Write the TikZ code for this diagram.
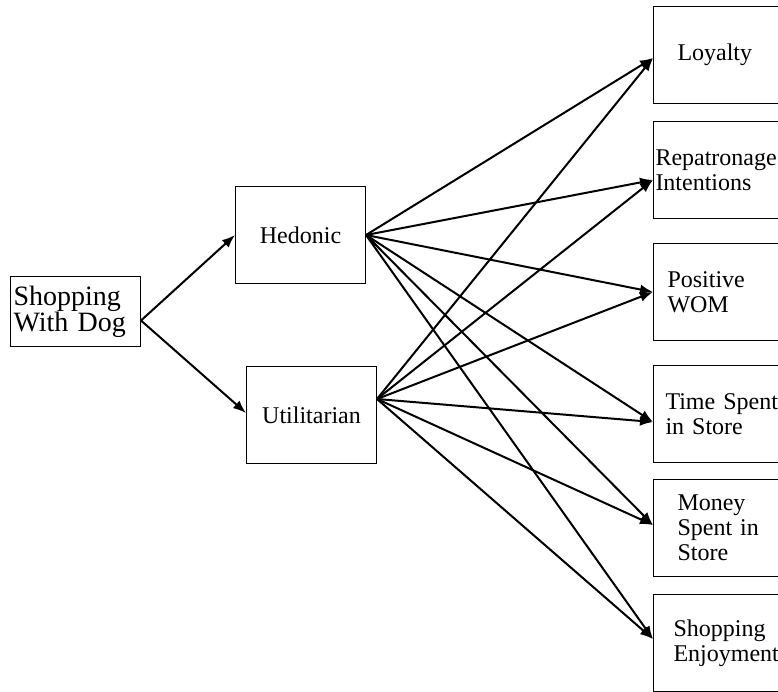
\documentclass[tikz,border=0pt]{standalone}
\usepackage{fontspec}
\setmainfont{Liberation Serif}
\usetikzlibrary{arrows.meta,positioning}

\begin{document}
\begin{tikzpicture}[x=0.5pt, y=-0.5pt, >={Latex[length=6.5pt,width=5pt]}]
    \tikzstyle{box} = [rectangle, draw=black, line width=0.5pt, anchor=north west, font=\fontsize{12}{12.5}\selectfont]
    \tikzstyle{mid} = [box, minimum width=65pt, minimum height=48.5pt]
    \tikzstyle{outcome} = [box, minimum height=48.5pt, text width=72pt, align=left]
    \tikzstyle{arrow} = [draw, ->, line width=1pt]

    \useasboundingbox (0,0) rectangle (778,692);

    \node [box, minimum width=65pt, minimum height=35pt, text width=62pt, inner xsep=1.5pt, align=left, font=\fontsize{14}{13}\selectfont] (dog) at (10,276) {Shopping\\With Dog};
    \node [mid] (hed) at (235,186) {Hedonic};
    \node [mid] (util) at (246,366) {Utilitarian};

    \node [outcome, inner xsep=12pt] (loy) at (653,6) {Loyalty};
    \node [outcome, inner xsep=1pt] (rep) at (653,121) {Repatronage\\Intentions};
    \node [outcome, inner xsep=7pt] (wom) at (653,243) {Positive\\WOM};
    \node [outcome, inner xsep=6pt] (time) at (653,365) {Time Spent\\in Store};
    \node [outcome, inner xsep=12pt] (money) at (653,479) {Money\\Spent in\\Store};
    \node [outcome, inner xsep=10pt] (enjoy) at (653,594) {Shopping\\Enjoyment};

    \draw [arrow] ([yshift=-4.5pt]dog.east) -- (hed.west);
    \draw [arrow] ([yshift=-4.5pt]dog.east) -- ([yshift=1pt]util.west);

    \draw [arrow] (hed.east) -- ([yshift=-1.5pt]loy.west);
    \draw [arrow] (hed.east) -- ([yshift=-5pt]rep.west);
    \draw [arrow] (hed.east) -- (wom.west);
    \draw [arrow] (hed.east) -- ([yshift=-4pt]time.west);
    \draw [arrow] (hed.east) -- ([yshift=1.5pt]money.west);
    \draw [arrow] (hed.east) -- ([yshift=2pt]enjoy.west);

    \draw [arrow] ([yshift=8pt]util.east) -- ([yshift=-1.5pt]loy.west);
    \draw [arrow] ([yshift=8pt]util.east) -- ([yshift=-5pt]rep.west);
    \draw [arrow] ([yshift=8pt]util.east) -- (wom.west);
    \draw [arrow] ([yshift=8pt]util.east) -- ([yshift=-4pt]time.west);
    \draw [arrow] ([yshift=8pt]util.east) -- ([yshift=1.5pt]money.west);
    \draw [arrow] ([yshift=8pt]util.east) -- ([yshift=2pt]enjoy.west);
\end{tikzpicture}
\end{document}
